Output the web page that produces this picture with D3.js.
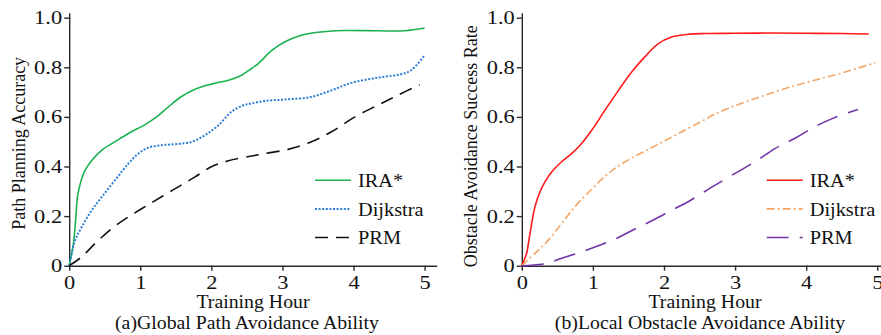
<!DOCTYPE html>
<html>
<head>
	<title>Training Hour comparison</title>
	<style type="text/css">
		html, body {
			margin: 0;
			padding: 0;
			background-color: #fff;
		}

		svg {
			display: block;
		}

		text {
			font-family: "Liberation Serif", "Times New Roman", serif;
			fill: #111;
		}

		.axis path, .axis line {
			stroke: #2a2a2a;
			stroke-width: 1.4px;
		}

		.curve {
			fill: none;
		}
	</style>
</head>
<body>
	<svg id="chart" width="881" height="335"></svg>
	<script src="https://cdn.jsdelivr.net/npm/d3@7/dist/d3.min.js"></script>
	<script type="text/javascript">
		// tick labels
		const hourTicks = [0, 1, 2, 3, 4, 5];
		const hourTickLabels = ['0', '1', '2', '3', '4', '5'];
		const rateTicks = [0, 0.2, 0.4, 0.6, 0.8, 1.0];
		const rateTickLabels = ['0', '0.2', '0.4', '0.6', '0.8', '1.0'];
		const seriesNames = ['IRA*', 'Dijkstra', 'PRM'];

		// (a) global path planning accuracy
		const globalIraHours = [0, 0.06, 0.094, 0.117, 0.155, 0.225, 0.32, 0.46, 0.646, 0.833, 1.067, 1.23, 1.395, 1.56, 1.77, 2.0, 2.24, 2.425, 2.565, 2.66, 2.85, 3.03, 3.22, 3.5, 3.87, 4.34, 4.72, 5.0];
		const globalIraValues = [0, 0.09, 0.197, 0.278, 0.33, 0.385, 0.425, 0.466, 0.5, 0.533, 0.569, 0.6, 0.64, 0.678, 0.711, 0.732, 0.748, 0.768, 0.795, 0.815, 0.868, 0.902, 0.925, 0.941, 0.948, 0.947, 0.947, 0.958];
		const globalDijkstraHours = [0, 0.084, 0.178, 0.318, 0.46, 0.646, 0.833, 0.974, 1.114, 1.3, 1.49, 1.72, 1.91, 2.1, 2.28, 2.45, 2.565, 2.75, 3.03, 3.4, 3.69, 3.97, 4.34, 4.67, 4.81, 5.0];
		const globalDijkstraValues = [0, 0.103, 0.157, 0.224, 0.278, 0.345, 0.412, 0.452, 0.476, 0.486, 0.49, 0.499, 0.526, 0.566, 0.62, 0.647, 0.654, 0.664, 0.67, 0.68, 0.707, 0.737, 0.758, 0.772, 0.788, 0.848];
		const globalPrmHours = [0, 0.178, 0.365, 0.6, 0.833, 1.067, 1.3, 1.535, 1.77, 2.0, 2.24, 2.565, 2.75, 3.08, 3.4, 3.69, 4.02, 4.34, 4.62, 4.93];
		const globalPrmValues = [0, 0.036, 0.09, 0.15, 0.197, 0.238, 0.278, 0.318, 0.358, 0.399, 0.423, 0.442, 0.452, 0.469, 0.499, 0.54, 0.6, 0.647, 0.687, 0.73];

		// (b) local obstacle avoidance success rate
		const localIraHours = [0, 0.068, 0.1, 0.139, 0.186, 0.256, 0.326, 0.42, 0.56, 0.7, 0.842, 0.983, 1.17, 1.36, 1.545, 1.73, 1.92, 2.107, 2.34, 2.58, 3.0, 3.5, 4.0, 4.5, 4.88];
		const localIraValues = [0, 0.05, 0.103, 0.17, 0.238, 0.298, 0.338, 0.378, 0.419, 0.452, 0.493, 0.546, 0.627, 0.707, 0.781, 0.842, 0.895, 0.922, 0.933, 0.936, 0.937, 0.938, 0.937, 0.936, 0.934];
		const localDijkstraHours = [0, 0.186, 0.373, 0.56, 0.748, 0.936, 1.124, 1.31, 1.545, 1.78, 2.014, 2.25, 2.58, 2.72, 3.0, 3.375, 3.75, 4.12, 4.5, 4.97];
		const localDijkstraValues = [0, 0.05, 0.103, 0.17, 0.238, 0.295, 0.348, 0.392, 0.434, 0.469, 0.504, 0.54, 0.59, 0.612, 0.645, 0.683, 0.718, 0.748, 0.777, 0.818];
		const localPrmHours = [0, 0.35, 0.56, 0.84, 1.076, 1.36, 1.59, 1.87, 2.11, 2.34, 2.58, 2.72, 3.0, 3.28, 3.56, 3.85, 4.12, 4.4, 4.73];
		const localPrmValues = [0, 0.009, 0.03, 0.056, 0.08, 0.114, 0.148, 0.187, 0.224, 0.258, 0.3, 0.325, 0.372, 0.419, 0.472, 0.515, 0.56, 0.597, 0.63];

		const svg = d3.select('#chart');
		const textStretch = 1.1;
		const tickStretch = 1.18;

		function zip(xs, ys) {
			return xs.map((x, i) => [x, ys[i]]);
		}

		function drawPanel(opts) {
			const g = svg.append('g');

			const xScale = d3.scaleLinear()
				.domain([0, opts.xMax])
				.range([opts.left, opts.right]);

			const yScale = d3.scaleLinear()
				.domain([0, 1.02])
				.range([265.7, 12.7]);

			const xAxis = d3.axisBottom(xScale)
				.tickValues(hourTicks)
				.tickFormat((d, i) => hourTickLabels[i])
				.tickSize(5)
				.tickSizeOuter(0)
				.tickPadding(4.5);

			const yAxis = d3.axisLeft(yScale)
				.tickValues(rateTicks)
				.tickFormat((d, i) => rateTickLabels[i])
				.tickSize(5)
				.tickSizeOuter(0)
				.tickPadding(1);

			const gx = g.append('g')
				.attr('class', 'axis')
				.attr('transform', 'translate(0,265.7)')
				.call(xAxis);

			const gy = g.append('g')
				.attr('class', 'axis')
				.attr('transform', `translate(${opts.left},0)`)
				.call(yAxis);

			[gx, gy].forEach(a => {
				a.attr('font-family', '"Liberation Serif", serif');
				a.selectAll('text')
					.style('font-size', '19px')
					.attr('fill', '#111')
					.attr('transform', `scale(${tickStretch},1)`);
			});

			const line = d3.line()
				.curve(d3.curveCatmullRom.alpha(0.5))
				.x(d => xScale(d[0]))
				.y(d => yScale(d[1]));

			opts.series.forEach(s => {
				g.append('path')
					.attr('class', 'curve')
					.attr('d', line(zip(s.hours, s.values)))
					.attr('stroke', s.color)
					.attr('stroke-width', s.width)
					.attr('stroke-dasharray', s.dash);
			});

			// legend
			opts.series.forEach((s, i) => {
				const ly = 180.3 + i * 28.6;
				g.append('line')
					.attr('x1', opts.legendX)
					.attr('x2', opts.legendX + 36)
					.attr('y1', ly)
					.attr('y2', ly)
					.attr('stroke', s.color)
					.attr('stroke-width', s.width)
					.attr('stroke-dasharray', s.dash);
				g.append('text')
					.attr('transform', `translate(${opts.legendX + 43},${ly + 6.6}) scale(${textStretch},1)`)
					.style('font-size', '18.5px')
					.text(seriesNames[i]);
			});

			g.append('text')
				.attr('transform', `translate(${opts.xTitleX},307.5) scale(${textStretch},1)`)
				.attr('text-anchor', 'middle')
				.style('font-size', '18px')
				.text('Training Hour');

			g.append('text')
				.attr('transform', `translate(${opts.captionX},329) scale(${textStretch},1)`)
				.attr('text-anchor', 'middle')
				.style('font-size', '18px')
				.text(opts.caption);

			g.append('text')
				.attr('transform', `translate(${opts.yTitleX},${opts.yTitleY}) scale(${textStretch},1) rotate(-90)`)
				.attr('text-anchor', 'middle')
				.style('font-size', '18px')
				.text(opts.yTitle);
		}

		drawPanel({
			left: 69.2,
			right: 436.7,
			xMax: 5.17,
			legendX: 315,
			xTitleX: 253,
			captionX: 247,
			yTitleX: 25,
			yTitleY: 143.3,
			yTitle: 'Path Planning Accuracy',
			caption: '(a)Global Path Avoidance Ability',
			series: [
				{ hours: globalIraHours, values: globalIraValues, color: '#1bb24f', width: 1.6, dash: null },
				{ hours: globalDijkstraHours, values: globalDijkstraValues, color: '#2c7fd8', width: 2, dash: '2,1.6' },
				{ hours: globalPrmHours, values: globalPrmValues, color: '#111', width: 1.6, dash: '13,8' }
			]
		});

		drawPanel({
			left: 521.8,
			right: 891.5,
			xMax: 5.2,
			legendX: 766.7,
			xTitleX: 705,
			captionX: 700,
			yTitleX: 476.5,
			yTitleY: 146.3,
			yTitle: 'Obstacle Avoidance Success Rate',
			caption: '(b)Local Obstacle Avoidance Ability',
			series: [
				{ hours: localIraHours, values: localIraValues, color: '#ff1a1a', width: 1.6, dash: null },
				{ hours: localDijkstraHours, values: localDijkstraValues, color: '#f5a564', width: 1.6, dash: '8,3,2,3' },
				{ hours: localPrmHours, values: localPrmValues, color: '#7033a8', width: 1.6, dash: '22,11' }
			]
		});
	</script>
</body>
</html>
